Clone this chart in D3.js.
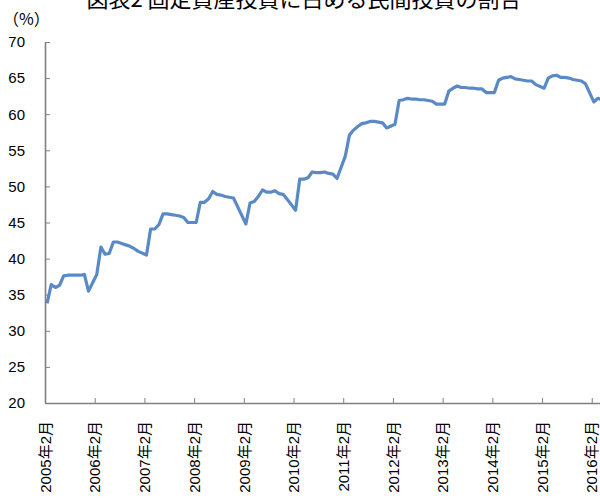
<!DOCTYPE html>
<html><head><meta charset="utf-8">
<script src="https://cdn.jsdelivr.net/npm/d3@7"></script>
<style>
html,body{margin:0;padding:0;background:#fff;overflow:hidden;}
svg{display:block;}
text{font-family:"Liberation Sans","Noto Sans CJK JP",sans-serif;fill:#000;}
</style></head>
<body>
<script>
// Share of private investment in fixed asset investment (%), Feb–Dec each year (January not published)
const title = "図表2 固定資産投資に占める民間投資の割合";
const unitLabel = "（%）";
const yTicks = [20, 25, 30, 35, 40, 45, 50, 55, 60, 65, 70];
const tickYears = [2005, 2006, 2007, 2008, 2009, 2010, 2011, 2012, 2013, 2014, 2015, 2016];
const v2005 = [33.8, 36.4, 36.0, 36.3, 37.6, 37.7, 37.7, 37.7, 37.7, 37.8, 35.5];
const v2006 = [37.8, 41.6, 40.6, 40.7, 42.3, 42.3, 42.1, 41.9, 41.7, 41.4, 41.0];
const v2007 = [40.5, 44.1, 44.1, 44.7, 46.2, 46.2, 46.1, 46.0, 45.9, 45.7, 45.0];
const v2008 = [45.0, 47.8, 47.8, 48.3, 49.3, 48.9, 48.8, 48.6, 48.5, 48.4, 47.2];
const v2009 = [44.8, 47.7, 47.9, 48.6, 49.5, 49.2, 49.2, 49.4, 49.0, 48.9, 48.2];
const v2010 = [46.7, 51.0, 51.0, 51.2, 52.0, 51.9, 51.9, 52.0, 51.8, 51.7, 51.1];
const v2011 = [54.2, 57.1, 57.8, 58.3, 58.7, 58.8, 59.0, 59.0, 58.9, 58.8, 58.1];
const v2012 = [58.6, 61.9, 62.0, 62.2, 62.1, 62.1, 62.0, 62.0, 61.9, 61.8, 61.4];
const v2013 = [61.4, 63.2, 63.6, 63.9, 63.7, 63.7, 63.6, 63.6, 63.5, 63.5, 63.0];
const v2014 = [63.0, 64.7, 65.0, 65.1, 65.2, 64.9, 64.8, 64.7, 64.6, 64.6, 64.1];
const v2015 = [63.6, 65.0, 65.3, 65.4, 65.1, 65.1, 65.0, 64.8, 64.7, 64.6, 64.2];
const v2016 = [61.7, 62.2, 62.0];
const yearValues = [v2005, v2006, v2007, v2008, v2009, v2010, v2011, v2012, v2013, v2014, v2015, v2016];

// monthly series: month index counted from 2005年2月 (index 0), values Feb..Dec
const series = [];
yearValues.forEach((arr, yi) => {
  arr.forEach((v, mi) => {
    series.push({ idx: yi * 12 + mi, value: v });
  });
});

const W = 600, H = 498;
const svg = d3.select("body").append("svg").attr("width", W).attr("height", H);

const step = 4.142;
const nMonths = 136;
const x = d3.scaleLinear().domain([0, nMonths]).range([45, 45 + nMonths * step]);
const y = d3.scaleLinear().domain([20, 70]).range([403, 42]);

// title (cut at top, as in the reference)
svg.append("text").attr("x", 304).attr("y", 7).attr("text-anchor", "middle")
  .style("font-family", '"Noto Sans CJK JP",sans-serif').style("font-size", "22px")
  .attr("xml:space", "preserve").text(title);

svg.append("text").attr("x", 3).attr("y", 25)
  .style("font-family", '"Noto Sans CJK JP",sans-serif').style("font-size", "16px").text(unitLabel);

// Y axis
const yAxis = d3.axisLeft(y).tickValues(yTicks).tickSizeInner(-5).tickSizeOuter(0).tickPadding(20).tickFormat(d3.format("d"));
const gy = svg.append("g").attr("transform", "translate(45,0)").call(yAxis);
gy.selectAll("text").style("font-size", "15px").attr("fill", "#000");
gy.select(".domain").attr("stroke", "#808080").attr("stroke-width", 1.6);
gy.selectAll(".tick line").attr("stroke", "#808080").attr("stroke-width", 1);

// X axis
const xTickVals = tickYears.map((yr, i) => i * 12);
const xAxis = d3.axisBottom(x).tickValues(xTickVals).tickSizeInner(-5).tickSizeOuter(0)
  .tickFormat((d, i) => tickYears[i] + "年2月");
const gx = svg.append("g").attr("transform", "translate(0,403)").call(xAxis);
gx.select(".domain").attr("stroke", "#808080").attr("stroke-width", 1.6);
gx.selectAll(".tick line").attr("stroke", "#808080").attr("stroke-width", 1);
gx.selectAll("text")
  .style("font-size", "15px").attr("fill", "#000")
  .attr("text-anchor", "end")
  .attr("transform", "rotate(-90)")
  .attr("x", -18).attr("y", 0).attr("dy", "0.35em");

// line
const line = d3.line().x(d => x(d.idx + 0.5)).y(d => y(d.value));
svg.append("path").datum(series)
  .attr("fill", "none").attr("stroke", "#5a8ac6").attr("stroke-width", 3.2)
  .attr("stroke-linejoin", "round").attr("stroke-linecap", "butt")
  .attr("d", line);
</script>
</body></html>
